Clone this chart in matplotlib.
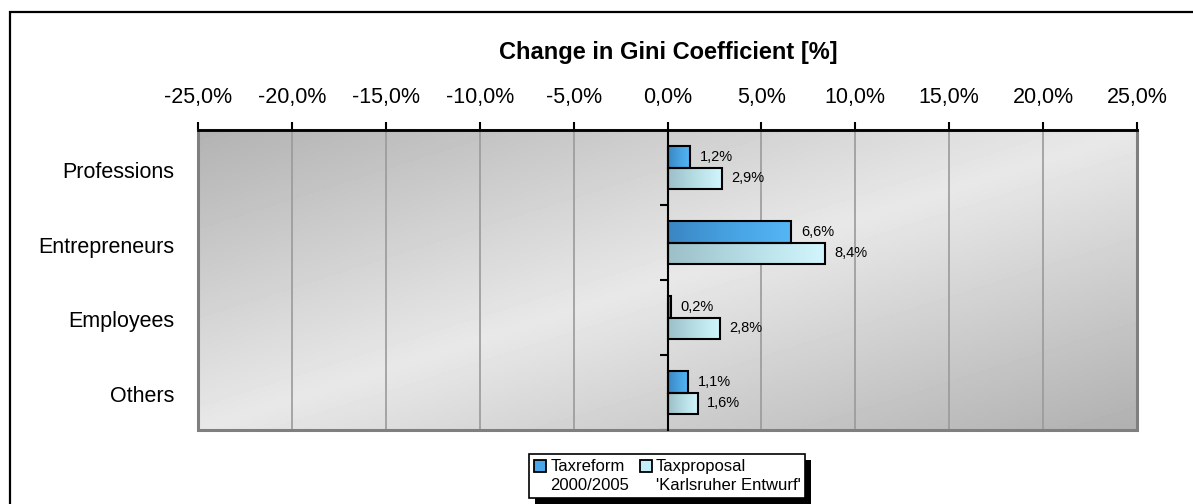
import numpy as np
import matplotlib
matplotlib.use("Agg")
import matplotlib.pyplot as plt
from matplotlib.colors import LinearSegmentedColormap
from matplotlib.patches import Rectangle
from matplotlib.lines import Line2D

plt.rcParams['font.family'] = ['Liberation Sans', 'DejaVu Sans']

categories = ["Professions", "Entrepreneurs", "Employees", "Others"]
taxreform = [1.2, 6.6, 0.2, 1.1]
taxproposal = [2.9, 8.4, 2.8, 1.6]
series_names = ["Taxreform\n2000/2005", "Taxproposal\n'Karlsruher Entwurf'"]
xticks = [-25, -20, -15, -10, -5, 0, 5, 10, 15, 20, 25]

blue_cmap = LinearSegmentedColormap.from_list("blue", ["#3a86c2", "#47a2e2", "#55b6f6"])
light_cmap = LinearSegmentedColormap.from_list("light", ["#9cbfc8", "#b6dde5", "#d2f6fe"])


def pct(v):
    return f"{v:.1f}%".replace(".", ",")


fig = plt.figure(figsize=(11.93, 5.04), dpi=100)
ax = fig.add_axes([198 / 1193, 1 - 430 / 504, 939 / 1193, 300 / 504])

# background gradient (dark top-left, light middle, dark bottom-right)
u, v = np.meshgrid(np.linspace(0, 1, 300), np.linspace(0, 1, 150))
t = (u + v) / 2
shade = np.where(t < 0.5, 0.70 + 0.42 * t, 0.91 - 0.44 * (t - 0.5))
ax.imshow(shade, cmap="gray", vmin=0, vmax=1, extent=(0, 1, 0, 1),
          transform=ax.transAxes, aspect="auto", zorder=0, origin="upper")

y = np.arange(len(categories))
h = 0.285
bars1 = ax.barh(y - h / 2, taxreform, height=h, facecolor="none", edgecolor="black", lw=1.5, zorder=4)
bars2 = ax.barh(y + h / 2, taxproposal, height=h, facecolor="none", edgecolor="black", lw=1.5, zorder=4)

grad = np.linspace(0, 1, 256).reshape(1, -1)
for bars, cmap, vals in [(bars1, blue_cmap, taxreform), (bars2, light_cmap, taxproposal)]:
    for b, val in zip(bars, vals):
        x0, y0, w, hh = b.get_x(), b.get_y(), b.get_width(), b.get_height()
        im = ax.imshow(grad, cmap=cmap, extent=(x0, x0 + w, y0 + hh, y0), aspect="auto", zorder=3)
        im.set_clip_path(b)
        ax.text(x0 + w + 0.5, y0 + hh / 2, pct(val), va="center", ha="left", fontsize=10.5, zorder=5)

ax.set_xlim(-25, 25)
ax.set_ylim(3.5, -0.5)
ax.set_xticks(xticks)
ax.set_xticklabels([pct(x) for x in xticks], fontsize=15.5)
ax.xaxis.tick_top()
ax.tick_params(axis="x", direction="out", length=6, width=1.5, pad=10, color="black")
ax.grid(axis="x", color="#9a9a9a", lw=1.2, zorder=1)
ax.set_axisbelow(True)

ax.set_yticks([0.5, 1.5, 2.5, 3.5])
ax.set_yticklabels([])
ax.tick_params(axis="y", direction="out", length=6, width=1.5, color="black")
ax.spines["left"].set_position(("data", 0))
ax.spines["left"].set_linewidth(1.5)
ax.spines["left"].set_zorder(6)
ax.spines["top"].set_linewidth(2)
ax.spines["right"].set_visible(False)
ax.spines["bottom"].set_visible(False)
ax.add_patch(Rectangle((0, 0), 1, 1, transform=ax.transAxes, fill=False,
                       edgecolor="#7f7f7f", lw=2.2, zorder=2, clip_on=False))

for yi, cat in zip(y, categories):
    ax.text(-0.025, yi + 0.06, cat, transform=ax.get_yaxis_transform(), ha="right", va="center", fontsize=15.5)

fig.text(668 / 1193, 1 - 53 / 504, "Change in Gini Coefficient [%]", ha="center", va="center",
         fontsize=17, fontweight="bold")

# outer chart frame
fig.patches.append(Rectangle((10 / 1193, -0.2), 1.2, 1.2 - 12 / 504, transform=fig.transFigure,
                             fill=False, edgecolor="black", lw=1.6))

handles = [Line2D([], [], ls="none", marker="s", markersize=8, markerfacecolor="#4aa6e6",
                  markeredgecolor="black", markeredgewidth=1.3),
           Line2D([], [], ls="none", marker="s", markersize=8, markerfacecolor="#c4eef8",
                  markeredgecolor="black", markeredgewidth=1.3)]
leg = fig.legend(handles, series_names, ncol=2, loc="center", bbox_to_anchor=(667 / 1193, 1 - 476 / 504),
                 fontsize=12, frameon=True, fancybox=False, edgecolor="black", framealpha=1,
                 handlelength=0.8, handletextpad=0.2, columnspacing=0.6, borderpad=0.3,
                 labelspacing=0.2)
leg.get_frame().set_linewidth(1.2)
leg.set_zorder(10)
for txt in leg.get_texts():
    txt.set_linespacing(1.3)
# put markers level with the first text line
for lh in leg.legend_handles:
    lh.set_ydata(np.asarray(lh.get_ydata()) + 7.5)

# hard black drop shadow behind the legend
fig.canvas.draw()
bb = leg.get_window_extent(fig.canvas.get_renderer())
W, H = fig.bbox.width, fig.bbox.height
fig.patches.append(Rectangle(((bb.x0 + 6) / W, (bb.y0 - 6) / H), bb.width / W, bb.height / H,
                             transform=fig.transFigure, facecolor="black", edgecolor="none", zorder=2))

fig.savefig("out.png", dpi=100)
